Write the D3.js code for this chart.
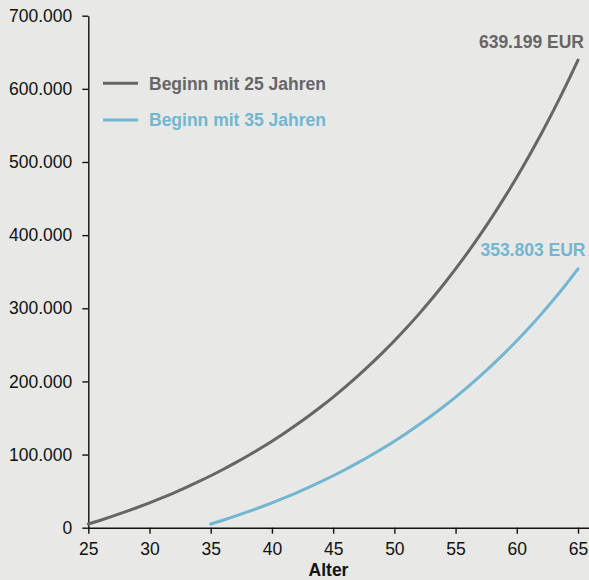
<!DOCTYPE html>
<html>
<head>
<meta charset="utf-8">
<script src="https://cdn.jsdelivr.net/npm/d3@7"></script>
<style>
  html, body { margin: 0; padding: 0; background: #e8e8e6; }
  svg { display: block; }
  text { font-family: "Liberation Sans", Arial, sans-serif; }
</style>
</head>
<body>
<svg id="chart" width="589" height="580"></svg>
<script>
// ---- data ----
const ages25 = [25,26,27,28,29,30,31,32,33,34,35,36,37,38,39,40,41,42,43,44,45,46,47,48,49,50,51,52,53,54,55,56,57,58,59,60,61,62,63,64,65];
const values25 = [5000,10250,15763,21551,27628,34010,40710,47746,55133,62889,71034,79586,88565,97993,107893,118287,129202,140662,152695,165330,178596,192526,207152,222510,238635,255567,273346,292013,311614,332194,353804,376494,400319,425335,451602,479182,508141,538548,570475,603999,639199];
const ages35 = [35,36,37,38,39,40,41,42,43,44,45,46,47,48,49,50,51,52,53,54,55,56,57,58,59,60,61,62,63,64,65];
const values35 = [5000,10250,15763,21551,27628,34010,40710,47746,55133,62889,71034,79586,88565,97993,107893,118287,129202,140662,152695,165330,178596,192526,207152,222510,238635,255567,273346,292013,311614,332194,353803];
const seriesNames = ["Beginn mit 25 Jahren", "Beginn mit 35 Jahren"];
const seriesColors = ["#666666", "#72b6d1"];
const endLabels = ["639.199 EUR", "353.803 EUR"];
const xTicks = [25,30,35,40,45,50,55,60,65];
const yTicks = [0,100000,200000,300000,400000,500000,600000,700000];
const yTickLabels = ["0","100.000","200.000","300.000","400.000","500.000","600.000","700.000"];
const xTitle = "Alter";

// ---- layout ----
const FS = 17.5;
const svg = d3.select("#chart");
const x = d3.scaleLinear().domain([25, 65]).range([88.3, 578]);
const y = d3.scaleLinear().domain([0, 700000]).range([527.7, 15.7]);

// axes
const xAxis = svg.append("g")
  .attr("transform", "translate(0,527.7)")
  .call(d3.axisBottom(x).tickValues(xTicks).tickSize(6).tickSizeOuter(0).tickPadding(9));
xAxis.select(".domain").attr("d", `M${x(25)},0.5H589`);
const yAxis = svg.append("g")
  .attr("transform", "translate(88.3,0)")
  .call(d3.axisLeft(y).tickValues(yTicks).tickFormat((d,i) => yTickLabels[i]).tickSize(6).tickSizeOuter(0).tickPadding(10));

svg.selectAll(".tick text").attr("font-size", FS).attr("fill", "#111")
  .style("font-family", '"Liberation Sans", Arial, sans-serif');
svg.selectAll(".domain, .tick line").attr("stroke", "#111").attr("stroke-width", 1.4);

// axis title
svg.append("text").attr("x", 328.5).attr("y", 576)
  .attr("text-anchor", "middle").attr("font-size", FS).attr("font-weight", "bold")
  .attr("fill", "#111").text(xTitle);

// lines
const line = d3.line().x(d => x(d[0])).y(d => y(d[1])).curve(d3.curveMonotoneX);
const series = [
  d3.zip(ages25, values25),
  d3.zip(ages35, values35)
];
series.forEach((s, i) => {
  svg.append("path").datum(s)
    .attr("fill", "none").attr("stroke", seriesColors[i])
    .attr("stroke-width", 3).attr("stroke-linecap", "round")
    .attr("d", line);
});

// end labels
const lastVals = [values25[values25.length-1], values35[values35.length-1]];
const labelRight = [584, 585.5];
const labelOff = [12, 13];
endLabels.forEach((t, i) => {
  svg.append("text").attr("x", labelRight[i]).attr("y", y(lastVals[i]) - labelOff[i])
    .attr("text-anchor", "end").attr("font-size", FS).attr("font-weight", "bold")
    .attr("fill", seriesColors[i]).text(t);
});

// legend
const legendY = [83.3, 120];
const legendDy = [7, 6];
seriesNames.forEach((n, i) => {
  const ly = legendY[i];
  svg.append("line").attr("x1", 103).attr("x2", 138).attr("y1", ly).attr("y2", ly)
    .attr("stroke", seriesColors[i]).attr("stroke-width", 3);
  svg.append("text").attr("x", 149).attr("y", ly + legendDy[i])
    .attr("font-size", FS).attr("font-weight", "bold")
    .attr("fill", seriesColors[i]).text(n);
});
</script>
</body>
</html>
